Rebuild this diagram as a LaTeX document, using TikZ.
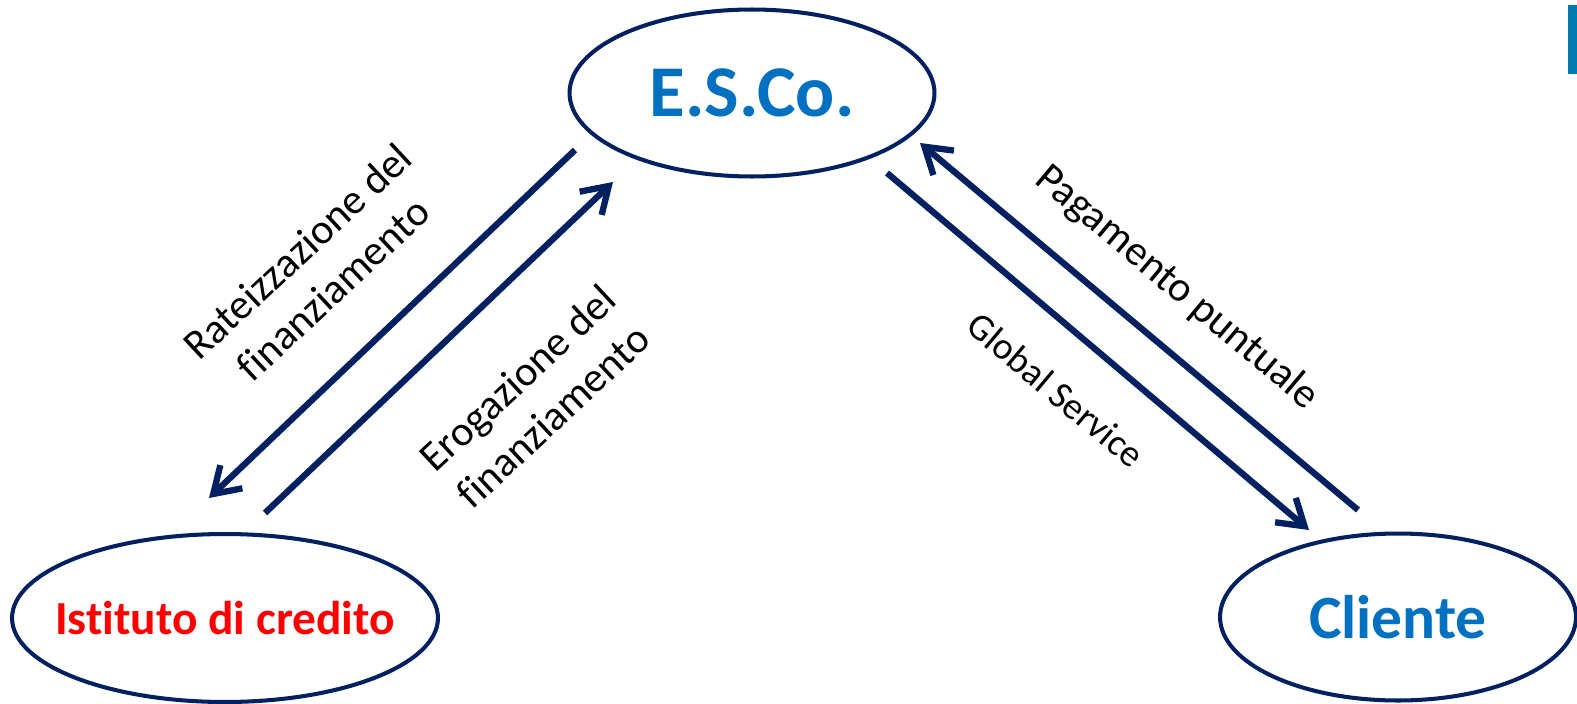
\documentclass[tikz,border=0pt]{standalone}
\usepackage{fontspec}
\setmainfont[Ligatures=NoCommon]{Carlito}
\usetikzlibrary{shapes.geometric,arrows.meta}
\definecolor{navy}{HTML}{002060}
\definecolor{escoblue}{HTML}{0070C0}
\definecolor{barblue}{HTML}{0079B0}

\begin{document}
\begin{tikzpicture}[x=0.02cm,y=-0.02cm,
  party/.style={ellipse,draw=navy,line width=2.3pt,inner sep=0pt},
  flow/.style={draw=navy,line width=3.6pt,-{Straight Barb[length=5mm,width=6.4mm]}},
  flowlabel/.style={align=center,inner sep=0pt}]

\useasboundingbox (0,0) rectangle (1577,703);

% the three parties
\node [party, minimum width=7.3cm, minimum height=3.34cm,
  label={[text=escoblue, font=\bfseries\fontsize{41.5}{50}\selectfont]center:E.S.Co.}] (esco) at (752,93) {};
\node [party, minimum width=8.52cm, minimum height=3.36cm,
  label={[text=red, font=\bfseries\fontsize{27}{32}\selectfont]center:Istituto di credito}] (istituto) at (225,618) {};
\node [party, minimum width=7.12cm, minimum height=3.34cm,
  label={[text=escoblue, font=\bfseries\fontsize{35}{42}\selectfont]center:Cliente}] (cliente) at (1398,617) {};

% corner bar
\fill [barblue] (1568,5) rectangle (1577,74);

% arrow ends
\coordinate (rat-a) at (575,150);
\coordinate (rat-b) at (209,498);
\coordinate (ero-a) at (265,513);
\coordinate (ero-b) at (613,182);
\coordinate (glo-a) at (887,173);
\coordinate (glo-b) at (1309,530);
\coordinate (pag-a) at (1358,510);
\coordinate (pag-b) at (920,143);

\draw [flow] (rat-a) -- (rat-b);
\draw [flow] (ero-a) -- (ero-b);
\draw [flow] (glo-a) -- (glo-b);
\draw [flow] (pag-a) -- (pag-b);

% labels
\node [flowlabel, rotate=43, font=\fontsize{24}{29.5}\selectfont] (ratlabel) at (315,270) {Rateizzazione del\\finanziamento};
\node [flowlabel, rotate=43, font=\fontsize{24}{29.5}\selectfont] (erolabel) at (535,397) {Erogazione del\\finanziamento};
\node [flowlabel, rotate=-40, font=\fontsize{24}{29.5}\selectfont] (paglabel) at (1177,288) {Pagamento puntuale};
\node [flowlabel, rotate=-40, font=\fontsize{21.5}{26}\selectfont] (glolabel) at (1056,390) {Global Service};
\end{tikzpicture}
\end{document}
